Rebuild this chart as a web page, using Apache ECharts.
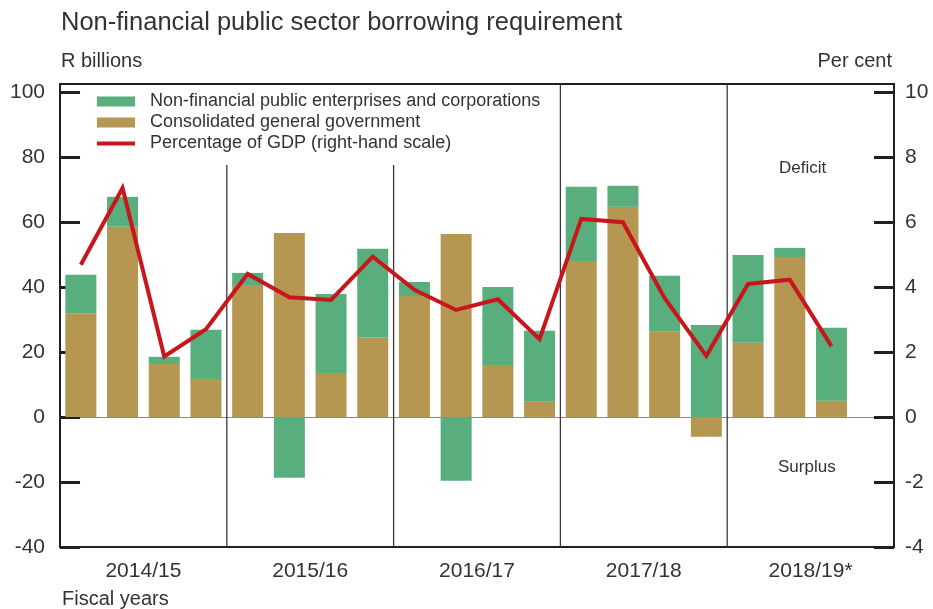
<!DOCTYPE html>
<html><head><meta charset="utf-8">
<script src="https://cdn.jsdelivr.net/npm/echarts@6/dist/echarts.min.js"></script>
<style>html,body{margin:0;padding:0;background:#fff}#c{width:933px;height:609px}</style>
</head><body><div id="c"></div><script>
const years = ['2014/15', '2015/16', '2016/17', '2017/18', '2018/19*'];
const quarters = [
  '2014/15 Q1','2014/15 Q2','2014/15 Q3','2014/15 Q4',
  '2015/16 Q1','2015/16 Q2','2015/16 Q3','2015/16 Q4',
  '2016/17 Q1','2016/17 Q2','2016/17 Q3','2016/17 Q4',
  '2017/18 Q1','2017/18 Q2','2017/18 Q3','2017/18 Q4',
  '2018/19 Q1','2018/19 Q2','2018/19 Q3','2018/19 Q4'
];
// R billions
const enterprises = [11.8, 9.2, 2.2, 15.1, 4.0, -18.7, 24.3, 27.3, 4.3, -19.6, 24.0, 21.8, 22.8, 6.5, 17.2, 28.3, 27.0, 2.8, 22.4, null];
const government  = [31.9, 58.5, 16.3, 11.7, 40.3, 56.6, 13.5, 24.4, 37.2, 56.3, 16.0, 4.7, 48.0, 64.6, 26.2, -6.1, 22.8, 49.2, 5.0, null];
// Per cent of GDP
const gdpPct = [4.68, 7.04, 1.86, 2.70, 4.40, 3.68, 3.60, 4.93, 3.91, 3.29, 3.62, 2.39, 6.09, 5.99, 3.65, 1.88, 4.09, 4.22, 2.18, null];

const leftMin = -40, leftMax = 102.4, leftInterval = 20;
const rightMin = -4, rightMax = 10.24, rightInterval = 2;

const names = {
  ent: 'Non-financial public enterprises and corporations',
  gov: 'Consolidated general government',
  pct: 'Percentage of GDP (right-hand scale)'
};
const GREEN = '#58ae7c', TAN = '#b59752', RED = '#c8161d', DARK = '#231f20', TXT = '#333333';
const FONT = 'Liberation Sans, Arial, sans-serif';

// boundaries between fiscal years (index of last quarter in each year)
const perYear = quarters.length / years.length;
const boundaries = years.slice(0, -1).map((y, i) => [(i + 1) * perYear - 1, 0]);

const chart = echarts.init(document.getElementById('c'), null, {renderer: 'canvas'});
chart.setOption({
  animation: false,
  textStyle: {fontFamily: FONT, color: TXT},
  title: {
    text: 'Non-financial public sector borrowing requirement',
    left: 61, top: 10, padding: 0,
    textStyle: {fontFamily: FONT, fontSize: 25.5, fontWeight: 'normal', color: TXT}
  },
  grid: {left: 60, right: 39, top: 84, bottom: 62, show: true, borderColor: DARK, borderWidth: 2, backgroundColor: 'transparent'},
  legend: {
    orient: 'vertical', left: 97, top: 91, padding: 0, itemGap: 0,
    itemWidth: 38, itemHeight: 10,
    data: [
      {name: names.ent, icon: 'rect'},
      {name: names.gov, icon: 'rect'},
      {name: names.pct, icon: 'path://M0,0H38V4H0Z'}
    ],
    textStyle: {fontFamily: FONT, fontSize: 18, color: TXT, lineHeight: 21, padding: [0, 0, 0, 10]}
  },
  xAxis: [
    {
      type: 'category', data: quarters, gridIndex: 0,
      axisLine: {show: true, onZero: true, lineStyle: {color: '#8a8a8a', width: 1}},
      axisTick: {show: false}, axisLabel: {show: false}, splitLine: {show: false}
    },
    {
      type: 'category', data: years, gridIndex: 0, position: 'bottom',
      axisLine: {show: false}, axisTick: {show: false}, splitLine: {show: false},
      axisLabel: {fontFamily: FONT, fontSize: 21, color: TXT, margin: 14}
    }
  ],
  yAxis: [
    {
      type: 'value', min: leftMin, max: leftMax, interval: leftInterval, position: 'left',
      axisLine: {show: true, lineStyle: {color: DARK, width: 2}},
      axisTick: {show: true, inside: true, length: 20, lineStyle: {color: DARK, width: 3}},
      axisLabel: {fontFamily: FONT, fontSize: 21, color: TXT, margin: 15, showMaxLabel: false},
      splitLine: {show: false}
    },
    {
      type: 'value', min: rightMin, max: rightMax, interval: rightInterval, position: 'right',
      axisLine: {show: true, lineStyle: {color: DARK, width: 2}},
      axisTick: {show: true, inside: true, length: 20, lineStyle: {color: DARK, width: 3}},
      axisLabel: {fontFamily: FONT, fontSize: 21, color: TXT, margin: 11, showMaxLabel: false},
      splitLine: {show: false}
    }
  ],
  series: [
    {
      type: 'custom', name: 'separators', xAxisIndex: 0, yAxisIndex: 0, silent: true, z: 1,
      data: boundaries,
      renderItem: function (params, api) {
        const idx = api.value(0);
        const half = api.size([1, 0])[0] / 2;
        const x = api.coord([idx, 0])[0] + half;
        const cs = params.coordSys;
        const yTop = params.dataIndex < 2 ? api.coord([idx, 77.5])[1] : cs.y;
        return {type: 'line', shape: {x1: x, y1: yTop, x2: x, y2: cs.y + cs.height},
                style: {stroke: '#3a3a3a', lineWidth: 1.3}};
      }
    },
    {
      name: names.gov, type: 'bar', stack: 'total', barWidth: 31, z: 2,
      itemStyle: {color: TAN}, data: government
    },
    {
      name: names.ent, type: 'bar', stack: 'total', barWidth: 31, z: 2,
      itemStyle: {color: GREEN}, data: enterprises
    },
    {
      name: names.pct, type: 'line', yAxisIndex: 1, symbol: 'none', z: 5,
      lineStyle: {color: RED, width: 4, join: 'miter'}, itemStyle: {color: RED},
      data: gdpPct
    }
  ],
  graphic: [
    {type: 'text', left: 61, top: 51, style: {text: 'R billions', font: '20px ' + FONT, fill: TXT}},
    {type: 'text', right: 41, top: 51, style: {text: 'Per cent', font: '20px ' + FONT, fill: TXT}},
    {type: 'text', left: 62, top: 589, style: {text: 'Fiscal years', font: '20px ' + FONT, fill: TXT}},
    {type: 'text', left: 779, top: 160, style: {text: 'Deficit', font: '17px ' + FONT, fill: TXT}},
    {type: 'text', left: 778, top: 459, style: {text: 'Surplus', font: '17px ' + FONT, fill: TXT}}
  ]
});
</script></body></html>
